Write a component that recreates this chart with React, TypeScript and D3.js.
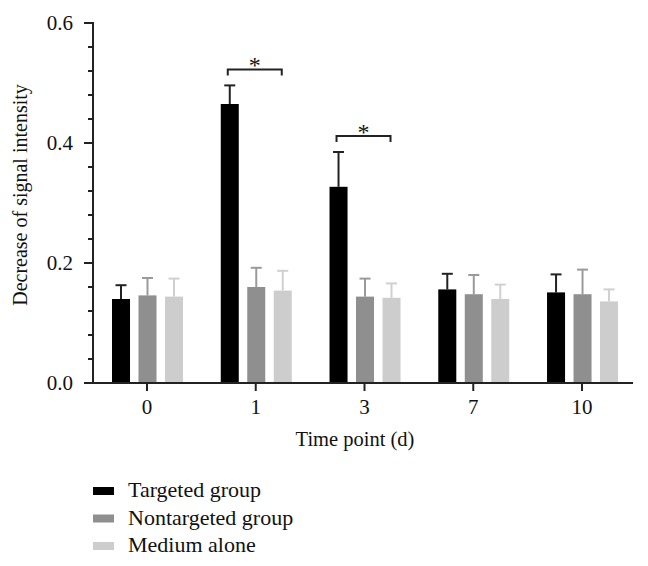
import React from "react";
import * as d3 from "d3";

const timePoints = ["0", "1", "3", "7", "10"];
const seriesNames = ["Targeted group", "Nontargeted group", "Medium alone"];
const targetedMean = [0.14, 0.465, 0.327, 0.156, 0.151];
const targetedErr = [0.023, 0.031, 0.058, 0.026, 0.03];
const nontargetedMean = [0.146, 0.16, 0.144, 0.148, 0.148];
const nontargetedErr = [0.029, 0.032, 0.03, 0.032, 0.041];
const mediumMean = [0.144, 0.154, 0.142, 0.14, 0.136];
const mediumErr = [0.03, 0.033, 0.024, 0.024, 0.02];
const majorTicks = [0, 0.2, 0.4, 0.6];
const minorTicks = [0.04, 0.08, 0.12, 0.16, 0.24, 0.28, 0.32, 0.36, 0.44, 0.48, 0.52, 0.56];
const significance = [
  { group: "1", label: "*" },
  { group: "3", label: "*" },
];

const barColors = ["#000000", "#8f8f8f", "#cdcdcd"];
const errColors = ["#222222", "#9a9a9a", "#d0d0d0"];
const ts = { fontFamily: '"Liberation Serif"' };

export default function App() {
  const means = [targetedMean, nontargetedMean, mediumMean];
  const errs = [targetedErr, nontargetedErr, mediumErr];

  const x0 = d3.scaleBand<string>().domain(timePoints).range([92.6, 636.4]).padding(0);
  const x1 = d3.scaleBand<string>().domain(seriesNames).range([19.4, 90.4]).paddingInner(0.32).paddingOuter(0);
  const y = d3.scaleLinear().domain([0, 0.6]).range([383, 23]);
  const axisX = 93;
  const axisEnd = 633;
  const bw = x1.bandwidth();

  return (
    <svg width={648} height={566} style={{ position: "absolute", left: 0, top: 0, background: "#fff" }}>
      {seriesNames.map((s, si) =>
        timePoints.map((t, ti) => {
          const bx = (x0(t) as number) + (x1(s) as number);
          const v = means[si][ti];
          const e = errs[si][ti];
          const cx = bx + bw / 2;
          return (
            <g key={s + t}>
              <line x1={cx} x2={cx} y1={y(v)} y2={y(v + e)} stroke={errColors[si]} strokeWidth={2} />
              <line x1={cx - 5.5} x2={cx + 5.5} y1={y(v + e)} y2={y(v + e)} stroke={errColors[si]} strokeWidth={2} />
              <rect x={bx} y={y(v)} width={bw} height={y(0) - y(v)} fill={barColors[si]} />
            </g>
          );
        })
      )}

      <line x1={axisX} x2={axisX} y1={y(0.6) - 1} y2={y(0)} stroke="#222" strokeWidth={2} />
      {majorTicks.map((t) => (
        <g key={"M" + t}>
          <line x1={axisX - 9} x2={axisX} y1={y(t)} y2={y(t)} stroke="#222" strokeWidth={2} />
          <text x={73} y={y(t) + 7} textAnchor="end" fontSize={21} fill="#111" style={ts}>
            {d3.format(".1f")(t)}
          </text>
        </g>
      ))}
      {minorTicks.map((t) => (
        <line key={"m" + t} x1={axisX - 5} x2={axisX} y1={y(t)} y2={y(t)} stroke="#222" strokeWidth={2} />
      ))}

      <line x1={axisX} x2={axisEnd} y1={y(0)} y2={y(0)} stroke="#222" strokeWidth={2} />
      {timePoints.map((t) => {
        const cx = (x0(t) as number) + x0.bandwidth() / 2;
        return (
          <g key={"x" + t}>
            <line x1={cx} x2={cx} y1={y(0)} y2={y(0) + 8} stroke="#222" strokeWidth={2} />
            <text x={cx} y={414} textAnchor="middle" fontSize={21} fill="#111" style={ts}>
              {t}
            </text>
          </g>
        );
      })}

      <text x={355} y={446} textAnchor="middle" fontSize={20.5} fill="#111" style={ts}>
        Time point (d)
      </text>
      <text transform={`translate(27, 195) rotate(-90)`} textAnchor="middle" fontSize={20} fill="#111" style={ts}>
        Decrease of signal intensity
      </text>

      {significance.map((sg) => {
        const gi = timePoints.indexOf(sg.group);
        const gx = x0(sg.group) as number;
        const left = gx + (x1(seriesNames[0]) as number) + bw / 2 - 2;
        const right = gx + (x1(seriesNames[2]) as number) + bw / 2 - 1;
        const top = means[0][gi] + errs[0][gi];
        const by = y(top) - 16;
        return (
          <g key={"s" + sg.group}>
            <path d={`M${left},${by + 6}V${by}H${right}V${by + 6}`} fill="none" stroke="#222" strokeWidth={2} />
            <text x={(left + right) / 2} y={by + 4} textAnchor="middle" fontSize={24} fill="#111" style={ts}>
              {sg.label}
            </text>
          </g>
        );
      })}

      {seriesNames.map((s, i) => (
        <g key={"l" + s} transform={`translate(93, ${487 + i * 27.5})`}>
          <rect x={0} y={0} width={21} height={8} fill={barColors[i]} />
          <text x={35} y={10} fontSize={22} fill="#111" style={ts}>
            {s}
          </text>
        </g>
      ))}
    </svg>
  );
}
